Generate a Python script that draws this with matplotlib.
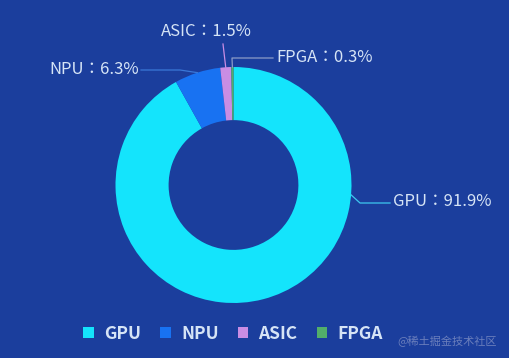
import numpy as np
import matplotlib
matplotlib.use('Agg')
from matplotlib import pyplot as plt

# 数据
labels = ['GPU', 'NPU', 'ASIC', 'FPGA']
values = [91.9, 6.3, 1.5, 0.3]
colors = ['#14e4fc', '#1872f2', '#c98de4', '#52ae6a']

plt.rcParams['font.family'] = ['Noto Sans CJK TC', 'DejaVu Sans']

bg = '#1b3e9d'
txt = '#d6e4f6'

W, H = 509, 358
fig = plt.figure(figsize=(W / 100, H / 100), dpi=100)
fig.patch.set_facecolor(bg)
ax = fig.add_axes([0, 0, 1, 1])
ax.set_facecolor(bg)

# ドーナツ (座標はピクセル単位)
cx, cy, r = 233.5, H - 185, 118
wedges, _ = ax.pie(values, colors=colors, startangle=90, counterclock=False,
                   center=(cx, cy), radius=r,
                   wedgeprops=dict(width=r * 0.45, linewidth=0))
ax.set_xlim(0, W)
ax.set_ylim(0, H)
ax.set_aspect('equal')
ax.axis('off')


def edge(angle):
    a = np.deg2rad(angle)
    return cx + r * np.cos(a), cy + r * np.sin(a)


def mid(w):
    return (w.theta1 + w.theta2) / 2


# ラベルと引き出し線
line_col = ['#3ec8f0', '#3a78d8', '#c98de4', '#8c9cc8']
label_specs = [
    # (アンカー角度, 折れ点, テキスト位置, ha)
    (-4.8, [(360, H - 203), (390, H - 203)], (393, H - 201), 'left'),
    (mid(wedges[1]), [(180, H - 70), (141, H - 70)], (139, H - 70), 'right'),
    (mid(wedges[2]), [(223, H - 44)], (206, H - 31), 'center'),
    (mid(wedges[3]), [(232, H - 58), (273, H - 58)], (276, H - 58), 'left'),
]
for i, (ang, pts, tpos, ha) in enumerate(label_specs):
    x0, y0 = edge(ang)
    xs = [x0] + [p[0] for p in pts]
    ys = [y0] + [p[1] for p in pts]
    ax.plot(xs, ys, color=line_col[i], linewidth=0.9)
    ax.text(tpos[0], tpos[1], f'{labels[i]}：{values[i]}%', color=txt,
            fontsize=12, ha=ha, va='center')

# 凡例
leg = fig.legend(wedges, labels, loc='center', bbox_to_anchor=(233 / W, 1 - 334 / H),
                 ncol=4, frameon=False, labelcolor=txt,
                 prop=dict(size=12.5, weight='bold'),
                 handlelength=0.6, handleheight=0.6, handletextpad=0.6,
                 columnspacing=1.1, borderpad=0)

# 透かし
fig.text(497 / W, 1 - 341 / H, '@稀土掘金技术社区', color='#7f8fc4', fontsize=8,
         ha='right', va='center', alpha=0.8)

fig.savefig('out.png', dpi=100, facecolor=bg)
